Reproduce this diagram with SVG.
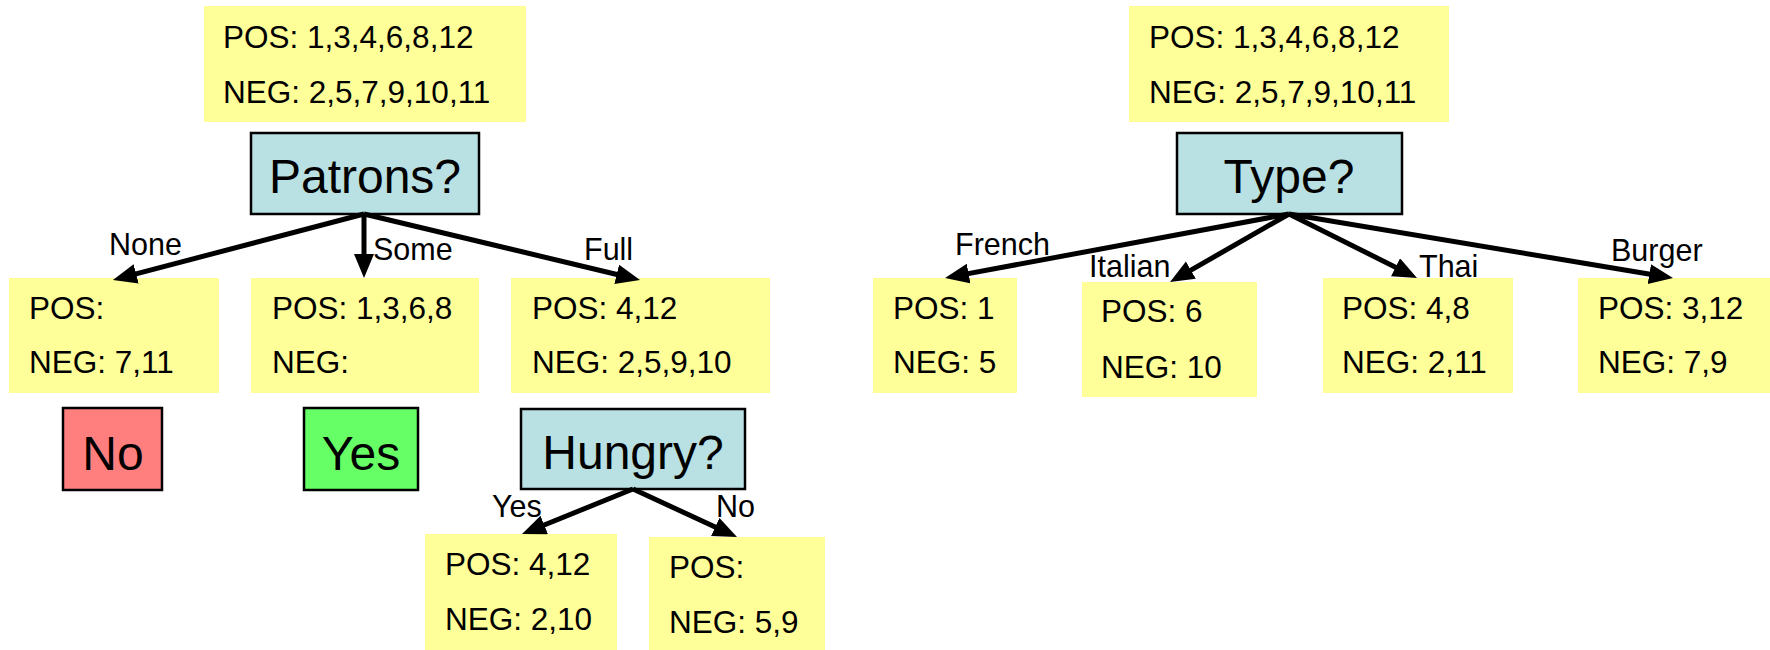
<svg xmlns="http://www.w3.org/2000/svg" width="1770" height="650" viewBox="0 0 1770 650">
<style>
.y{fill:#FFFF99;stroke:none}
.q{fill:#B9E0E3;stroke:#000;stroke-width:2.5}
.t{font-family:"Liberation Sans",Arial,sans-serif;font-size:31.5px;fill:#000}
.big{font-family:"Liberation Sans",Arial,sans-serif;font-size:48px;fill:#000;text-anchor:middle}
.lab{font-family:"Liberation Sans",Arial,sans-serif;font-size:30.5px;fill:#000}
.c line{stroke:#000;stroke-width:5;marker-end:url(#ah)}
</style>
<defs>
<marker id="ah" markerUnits="userSpaceOnUse" markerWidth="26" markerHeight="22" refX="10" refY="10" orient="auto">
<path d="M0,0 L24,10 L0,20 z" fill="#000"/>
</marker>
</defs>
<rect width="1770" height="650" fill="#fff"/>

<g id="root-left">
<rect class="y" x="204" y="6" width="322" height="116"/>
<text class="t" x="223" y="48">POS: 1,3,4,6,8,12</text>
<text class="t" x="223" y="103">NEG: 2,5,7,9,10,11</text>
</g>
<g id="patrons">
<rect class="q" x="251" y="133" width="228" height="81"/>
<text class="big" x="365" y="193">Patrons?</text>
</g>
<g id="none-set">
<rect class="y" x="9" y="278" width="210" height="115"/>
<text class="t" x="29" y="319">POS:</text>
<text class="t" x="29" y="373">NEG: 7,11</text>
</g>
<g id="some-set">
<rect class="y" x="251" y="278" width="228" height="115"/>
<text class="t" x="272" y="319">POS: 1,3,6,8</text>
<text class="t" x="272" y="373">NEG:</text>
</g>
<g id="full-set">
<rect class="y" x="511" y="278" width="259" height="115"/>
<text class="t" x="532" y="319">POS: 4,12</text>
<text class="t" x="532" y="373">NEG: 2,5,9,10</text>
</g>
<g id="no-leaf">
<rect x="63" y="408" width="99" height="82" fill="#FF7F7F" stroke="#000" stroke-width="2.5"/>
<text class="big" x="113" y="470">No</text>
</g>
<g id="yes-leaf">
<rect x="304" y="408" width="114" height="82" fill="#66FF66" stroke="#000" stroke-width="2.5"/>
<text class="big" x="361" y="470">Yes</text>
</g>
<g id="hungry">
<rect class="q" x="521" y="409" width="224" height="80"/>
<text class="big" x="633" y="469">Hungry?</text>
</g>
<g id="hungry-yes-set">
<rect class="y" x="425" y="534" width="192" height="116"/>
<text class="t" x="445" y="575">POS: 4,12</text>
<text class="t" x="445" y="630">NEG: 2,10</text>
</g>
<g id="hungry-no-set">
<rect class="y" x="649" y="537" width="176" height="113"/>
<text class="t" x="669" y="578">POS:</text>
<text class="t" x="669" y="633">NEG: 5,9</text>
</g>

<g id="root-right">
<rect class="y" x="1129" y="6" width="320" height="116"/>
<text class="t" x="1149" y="48">POS: 1,3,4,6,8,12</text>
<text class="t" x="1149" y="103">NEG: 2,5,7,9,10,11</text>
</g>
<g id="type">
<rect class="q" x="1177" y="133" width="225" height="81"/>
<text class="big" x="1289" y="193">Type?</text>
</g>
<g id="french-set">
<rect class="y" x="873" y="278" width="144" height="115"/>
<text class="t" x="893" y="319">POS: 1</text>
<text class="t" x="893" y="373">NEG: 5</text>
</g>
<g id="italian-set">
<rect class="y" x="1082" y="282" width="175" height="115"/>
<text class="t" x="1101" y="322">POS: 6</text>
<text class="t" x="1101" y="378">NEG: 10</text>
</g>
<g id="thai-set">
<rect class="y" x="1323" y="278" width="190" height="115"/>
<text class="t" x="1342" y="319">POS: 4,8</text>
<text class="t" x="1342" y="373">NEG: 2,11</text>
</g>
<g id="burger-set">
<rect class="y" x="1578" y="278" width="192" height="115"/>
<text class="t" x="1598" y="319">POS: 3,12</text>
<text class="t" x="1598" y="373">NEG: 7,9</text>
</g>

<g id="connectors" class="c">
<line x1="364" y1="214" x2="126.5" y2="276.4"/>
<line x1="364" y1="214" x2="364" y2="264"/>
<line x1="364" y1="214" x2="626.4" y2="276.7"/>
<line x1="633" y1="489" x2="535" y2="528.7"/>
<line x1="633" y1="489" x2="724.3" y2="531.2"/>
<line x1="1289" y1="214" x2="958.8" y2="275.4"/>
<line x1="1289" y1="214" x2="1182.2" y2="275.1"/>
<line x1="1289" y1="214" x2="1404.5" y2="271.7"/>
<line x1="1289" y1="214" x2="1659.2" y2="275.7"/>
<text class="lab" x="109" y="255">None</text>
<text class="lab" x="373" y="260">Some</text>
<text class="lab" x="584" y="260">Full</text>
<text class="lab" x="492" y="517">Yes</text>
<text class="lab" x="716" y="517">No</text>
<text class="lab" x="955" y="255">French</text>
<text class="lab" x="1089" y="277">Italian</text>
<text class="lab" x="1419" y="277">Thai</text>
<text class="lab" x="1611" y="261">Burger</text>
</g>
</svg>
